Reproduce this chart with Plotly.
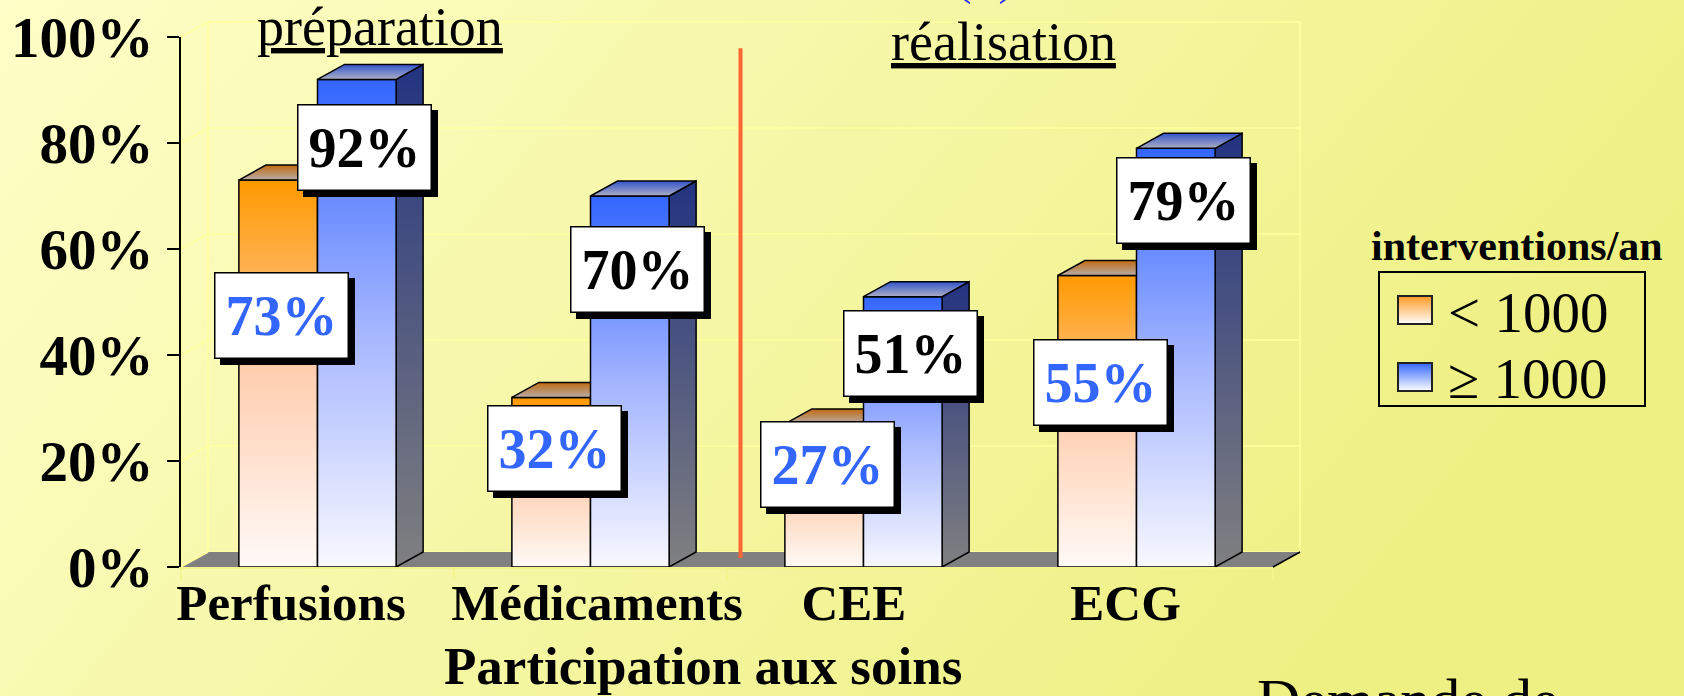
import base64
import plotly.graph_objects as go

# ---------------- data ----------------
categories = ["Perfusions", "Médicaments", "CEE", "ECG"]
series_names = ["< 1000", "≥ 1000"]
vals_lt1000 = [73, 32, 27, 55]
vals_ge1000 = [92, 70, 51, 79]
y_ticks = [0, 20, 40, 60, 80, 100]

# ---------------- layout constants ----------------
W, H = 1684, 696
L, R, T, B = 181, 1273, 37, 567          # plot area in pixels
DX = 27 / 273                             # 3-D depth in category units
DY = 15 / 5.3                             # 3-D depth in percent units
BW = 0.288                                # bar width (category units)
LABEL_Y = [[47.4, 22.3, 19.3, 34.9], [79.1, 56.2, 40.2, 69.2]]
LABEL_XSHIFT = [3, 8]
TICK_OFFSETS = [-0.097, 0.024, -0.035, -0.04]
FONT = "Liberation Serif"


def pxx(p):
    return (p - L) / (R - L)


def pyy(p):
    return (B - p) / (B - T)


def P(x, v):
    """data -> paper coordinates"""
    return ((x + 0.5) / 4.0, v / 100.0)


def path(points):
    s = "M " + " L ".join(f"{P(x, v)[0]:.5f},{P(x, v)[1]:.5f}" for x, v in points)
    return s + " Z"


def svg_uri(svg):
    return "data:image/svg+xml;base64," + base64.b64encode(svg.encode()).decode()


CS = {
    0: dict(front=[[0, "#FFFAF7"], [0.5, "#FFCFB0"], [1, "#FF9900"]],
            side=[[0, "#8A6A50"], [1, "#B05A00"]],
            top=[[0, "#B8ACA8"], [1, "#C06A10"]]),
    1: dict(front=[[0, "#F8F8FF"], [0.5, "#A2B4FF"], [1, "#3366FF"]],
            side=[[0, "#808080"], [1, "#233380"]],
            top=[[0, "#ACAEC4"], [1, "#3355CC"]]),
}
LABEL_COLORS = ["#3366FF", "#000000"]

fig = go.Figure()

series = [vals_lt1000, vals_ge1000]
for i, cat in enumerate(categories):
    for s, vals in enumerate(series):
        v = vals[i]
        xl = i - BW if s == 0 else i
        xr = xl + BW
        faces = [
            ("side", [xr, xr + DX, xr + DX, xr, xr], [0, DY, v + DY, v, 0]),
            ("front", [xl, xr, xr, xl, xl], [0, 0, v, v, 0]),
            ("top", [xl, xr, xr + DX, xl + DX, xl], [v, v, v + DY, v + DY, v]),
        ]
        for name, xs, ys in faces:
            fig.add_trace(go.Scatter(
                x=xs, y=ys, mode="lines", fill="toself",
                fillgradient=dict(type="vertical", colorscale=CS[s][name]),
                line=dict(color="#000000", width=1.5),
                hoverinfo="skip", showlegend=False,
                name=f"{series_names[s]} {cat}",
            ))

# ---------------- shapes (3-D walls, floor, divider) ----------------
shapes = []
wall_col = "#FFFF9E"
shapes.append(dict(type="path", xref="paper", yref="paper", layer="below",
                   path=path([(-0.5 + DX, DY), (3.5 + DX, DY), (3.5 + DX, 100 + DY), (-0.5 + DX, 100 + DY)]),
                   line=dict(color=wall_col, width=1.5), fillcolor="rgba(0,0,0,0)"))
shapes.append(dict(type="path", xref="paper", yref="paper", layer="below",
                   path=path([(-0.5, 0), (-0.5 + DX, DY), (-0.5 + DX, 100 + DY), (-0.5, 100)]),
                   line=dict(color=wall_col, width=1.5), fillcolor="rgba(0,0,0,0)"))
for v in y_ticks[1:-1]:
    x0, y0 = P(-0.5 + DX, v + DY)
    x1, y1 = P(3.5 + DX, v + DY)
    shapes.append(dict(type="line", xref="paper", yref="paper", layer="below",
                       x0=x0, y0=y0, x1=x1, y1=y1, line=dict(color=wall_col, width=1.5)))
    xa, ya = P(-0.5, v)
    shapes.append(dict(type="line", xref="paper", yref="paper", layer="below",
                       x0=xa, y0=ya, x1=x0, y1=y0, line=dict(color=wall_col, width=1.5)))
shapes.append(dict(type="path", xref="paper", yref="paper", layer="below",
                   path=path([(-0.5, 0), (3.5, 0), (3.5 + DX, DY), (-0.5 + DX, DY)]),
                   line=dict(width=0), fillcolor="#808080"))
xa, ya = P(3.5, 0)
xb, yb = P(3.5 + DX, DY)
shapes.append(dict(type="line", xref="paper", yref="paper", layer="below",
                   x0=xa, y0=ya, x1=xb, y1=yb, line=dict(color="#000000", width=1.5)))
xa, ya = P(-0.5, 0)
xb, yb = P(-0.5 + DX, DY)
shapes.append(dict(type="line", xref="paper", yref="paper", layer="below",
                   x0=xa, y0=ya, x1=xb, y1=yb, line=dict(color=wall_col, width=1.5)))
xr_, y0_ = P(1.5 + DX / 2, 1.7)
_, y1_ = P(1.5 + DX / 2, 97.9)
shapes.append(dict(type="line", xref="paper", yref="paper", layer="below",
                   x0=xr_, y0=y0_, x1=xr_, y1=y1_, line=dict(color="#FF6633", width=4)))
shapes.append(dict(type="rect", xref="paper", yref="paper", layer="above",
                   x0=pxx(1379), x1=pxx(1645), y0=pyy(406), y1=pyy(272),
                   line=dict(color="#000000", width=2), fillcolor="rgba(0,0,0,0)"))

# ---------------- images (background + legend swatches) ----------------
bg_svg = ('<svg xmlns="http://www.w3.org/2000/svg" width="1684" height="696" preserveAspectRatio="none">'
          '<defs><linearGradient id="g" x1="0" y1="0" x2="1" y2="0.35">'
          '<stop offset="0" stop-color="#FEFEC8"/><stop offset="1" stop-color="#EEF083"/>'
          '</linearGradient></defs><rect width="1684" height="696" fill="url(#g)"/></svg>')


def swatch_svg(c_top, c_bot):
    return ('<svg xmlns="http://www.w3.org/2000/svg" width="36" height="30" preserveAspectRatio="none">'
            f'<defs><linearGradient id="s" x1="0" y1="0" x2="0" y2="1"><stop offset="0" stop-color="{c_top}"/>'
            f'<stop offset="1" stop-color="{c_bot}"/></linearGradient></defs>'
            '<rect x="1" y="1" width="34" height="28" fill="url(#s)" stroke="#222" stroke-width="2"/></svg>')


images = [dict(source=svg_uri(bg_svg), xref="paper", yref="paper",
               x=pxx(0), y=pyy(0), sizex=W / (R - L), sizey=H / (B - T),
               xanchor="left", yanchor="top", sizing="stretch", layer="below")]
for k, (ct, cb, ytop) in enumerate([("#FF9922", "#FFFFFF", 295), ("#3366FF", "#FFFFFF", 362)]):
    images.append(dict(source=svg_uri(swatch_svg(ct, cb)), xref="paper", yref="paper",
                       x=pxx(1397), y=pyy(ytop), sizex=36 / (R - L), sizey=30 / (B - T),
                       xanchor="left", yanchor="top", sizing="stretch", layer="above"))

# ---------------- annotations ----------------
ann = []
for s, vals in enumerate(series):
    for i, v in enumerate(vals):
        xc = (i - BW / 2) if s == 0 else (i + BW / 2)
        common = dict(x=xc, y=LABEL_Y[s][i], xref="x", yref="y", showarrow=False,
                      text=f"{v}%", width=128, height=80, borderpad=2, borderwidth=1.5)
        ann.append(dict(common, xshift=LABEL_XSHIFT[s] + 6, yshift=-6, bgcolor="#000000",
                        bordercolor="#000000", font=dict(family=FONT, size=56, color="#000000", weight=700)))
        ann.append(dict(common, xshift=LABEL_XSHIFT[s], bgcolor="#FFFFFF", bordercolor="#000000",
                        font=dict(family=FONT, size=56, color=LABEL_COLORS[s], weight=700)))


def txt(text, xp, yp, size, bold=False, xanchor="center", color="#000000"):
    return dict(text=text, x=pxx(xp), y=pyy(yp), xref="paper", yref="paper", showarrow=False,
                xanchor=xanchor, yanchor="middle",
                font=dict(family=FONT, size=size, color=color, weight=700 if bold else 400))


ann += [
    txt("<u>préparation</u>", 380, 27, 54),
    txt("<u>réalisation</u>", 1003, 42, 54),
    txt("Participation aux soins", 703, 666, 53, bold=True),
    txt("interventions/an", 1517, 246, 42, bold=True),
    txt("&lt; 1000", 1446, 312, 57, xanchor="left"),
    txt("≥ 1000", 1446, 378, 57, xanchor="left"),
    txt("Demande de", 1255, 700, 60, xanchor="left"),
    txt("(1)", 985, -25, 53, color="#3333FF"),
]

fig.update_layout(
    width=W, height=H,
    margin=dict(l=L, r=W - R, t=T, b=H - B, autoexpand=False),
    paper_bgcolor="#F8F8B0", plot_bgcolor="rgba(0,0,0,0)",
    showlegend=False,
    shapes=shapes, images=images, annotations=ann,
    xaxis=dict(range=[-0.5, 3.5], tickmode="array",
               tickvals=[i + o for i, o in enumerate(TICK_OFFSETS)],
               ticktext=categories, ticks="", showgrid=False, zeroline=False,
               showline=True, linecolor="#F4F48C", linewidth=2,
               tickfont=dict(family=FONT, size=51, color="#000000", weight=700),
               ticklabelstandoff=-10,
               minor=dict(ticks="outside", tick0=-0.5, dtick=1, ticklen=10,
                          tickcolor="#F4F48C", tickwidth=1.5, showgrid=False)),
    yaxis=dict(range=[0, 100], tickmode="array", tickvals=y_ticks,
               ticktext=[f"{t}%" for t in y_ticks], ticks="outside", ticklen=12,
               tickwidth=2, tickcolor="#000000", showline=True, linecolor="#000000",
               linewidth=2, showgrid=False, zeroline=False, ticklabelstandoff=2,
               tickfont=dict(family=FONT, size=57, color="#000000", weight=700)),
)

fig.write_html("out.html", config={"displayModeBar": False},
               post_script="document.body.style.margin='0';document.body.style.overflow='hidden';")
